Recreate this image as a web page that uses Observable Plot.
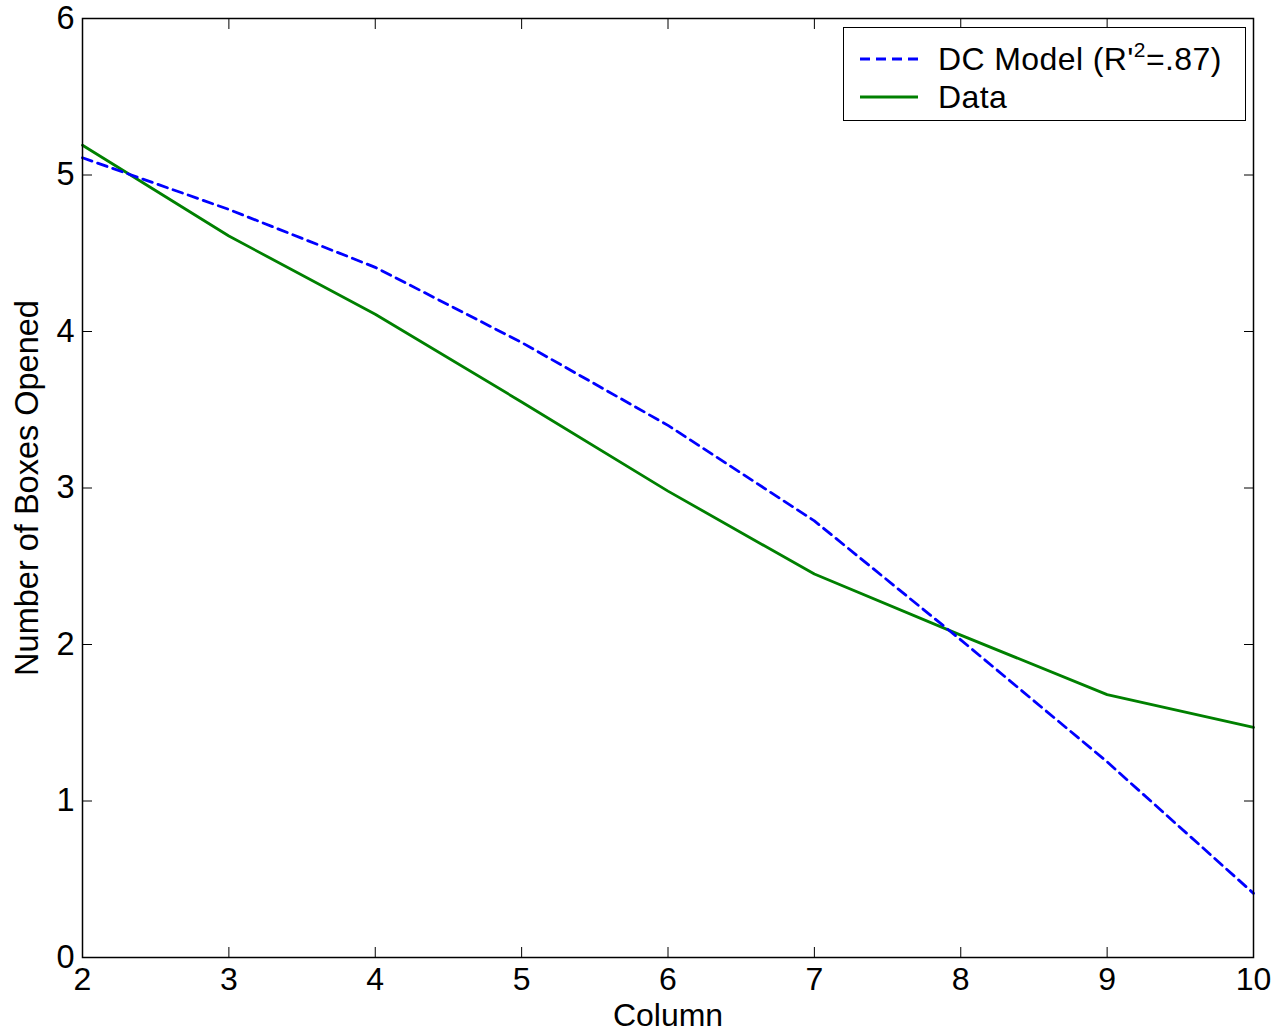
<!DOCTYPE html>
<html>
<head>
<meta charset="utf-8">
<script src="https://cdn.jsdelivr.net/npm/d3@7"></script>
<script src="https://cdn.jsdelivr.net/npm/@observablehq/plot@0.6"></script>
<style>
  html, body { margin: 0; padding: 0; background: #fff; }
  #wrap { position: relative; width: 1276px; height: 1034px; font-family: "Liberation Sans", Arial, sans-serif; }
  #legend { position: absolute; left: 843px; top: 27px; width: 403px; height: 94px; border: 1.5px solid #000; background: #fff; box-sizing: border-box; }
  .row { position: absolute; left: 0; height: 38px; display: flex; align-items: center; font-size: 32px; color: #000; letter-spacing: 0.4px; }
  .row svg { margin-left: 16px; margin-right: 20px; }
  sup { font-size: 21px; vertical-align: 0; position: relative; top: -13px; }
</style>
</head>
<body>
<div id="wrap"></div>
<script>
const columns = [2, 3, 4, 5, 6, 7, 8, 9, 10];
const dcModel = [5.11, 4.78, 4.41, 3.93, 3.40, 2.79, 2.03, 1.25, 0.41];
const dataValues = [5.19, 4.61, 4.11, 3.55, 2.98, 2.45, 2.06, 1.68, 1.47];
const xTicks = [2, 3, 4, 5, 6, 7, 8, 9, 10];
const yTicks = [0, 1, 2, 3, 4, 5, 6];

const rowsModel = columns.map((c, i) => ({x: c, y: dcModel[i]}));
const rowsData = columns.map((c, i) => ({x: c, y: dataValues[i]}));

const chart = Plot.plot({
  width: 1276,
  height: 1034,
  marginLeft: 82,
  marginRight: 23,
  marginTop: 18,
  marginBottom: 77,
  style: {fontFamily: "'Liberation Sans', Arial, sans-serif", fontSize: "32px", color: "#000", background: "#fff"},
  x: {domain: [2, 10]},
  y: {domain: [0, 6]},
  marks: [
    Plot.line(rowsData, {x: "x", y: "y", stroke: "#008000", strokeWidth: 2.8}),
    Plot.line(rowsModel, {x: "x", y: "y", stroke: "#0000ff", strokeWidth: 2.8, strokeDasharray: "10,6"}),
    Plot.axisX({ticks: xTicks, tickSize: 0, tickPadding: 10, tickFormat: "d", label: "Column", labelAnchor: "center", labelOffset: 68, labelArrow: "none", fontSize: 32}),
    Plot.axisX({anchor: "top", ticks: xTicks, tickSize: -10, tickFormat: () => "", label: null}),
    Plot.axisX({anchor: "bottom", ticks: xTicks, tickSize: -10, tickFormat: () => "", label: null}),
    Plot.axisY({ticks: yTicks, tickSize: 0, tickPadding: 8, tickFormat: "d", label: "Number of Boxes Opened", labelAnchor: "center", labelOffset: 68, labelArrow: "none", fontSize: 32.5}),
    Plot.axisY({anchor: "left", ticks: yTicks, tickSize: -10, tickFormat: () => "", label: null}),
    Plot.axisY({anchor: "right", ticks: yTicks, tickSize: -10, tickFormat: () => "", label: null}),
    Plot.frame({stroke: "#000", strokeWidth: 1.5})
  ]
});
const wrap = document.getElementById("wrap");
wrap.appendChild(chart);

const legend = document.createElement("div");
legend.id = "legend";
legend.innerHTML = `
  <div class="row" style="top:12px"><svg width="58" height="6"><line x1="0" y1="3" x2="58" y2="3" stroke="#0000ff" stroke-width="2.8" stroke-dasharray="10,6"/></svg><span>DC Model (R'<sup>2</sup>=.87)</span></div>
  <div class="row" style="top:50px"><svg width="58" height="6"><line x1="0" y1="3" x2="58" y2="3" stroke="#008000" stroke-width="2.8"/></svg><span>Data</span></div>`;
wrap.appendChild(legend);
</script>
</body>
</html>
